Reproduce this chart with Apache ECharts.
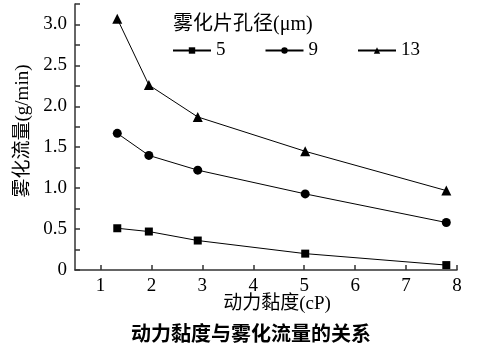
<!DOCTYPE html>
<html><head><meta charset="utf-8">
<script src="https://cdn.jsdelivr.net/npm/echarts@6/dist/echarts.min.js"></script>
<style>html,body{margin:0;padding:0;background:#fff}#c{width:495px;height:359px}</style>
</head><body><div id="c"></div>
<script>
const viscosity = [1.33, 1.95, 2.91, 5.02, 7.79];
const flow5 = [0.51, 0.47, 0.36, 0.20, 0.06];
const flow9 = [1.67, 1.40, 1.22, 0.93, 0.58];
const flow13 = [3.07, 2.26, 1.87, 1.45, 0.97];
const seriesNames = ['5', '9', '13'];
const xTicks = [1, 2, 3, 4, 5, 6, 7, 8];

const serif = '"Liberation Serif", "Noto Sans CJK SC", serif';
const numFont = 'Liberation Serif';
const chart = echarts.init(document.getElementById('c'), null, {renderer: 'canvas'});
function pairs(ys){ return viscosity.map((x,i)=>[x, ys[i]]); }
const common = {type:'line', lineStyle:{color:'#000', width:1}, itemStyle:{color:'#000'}, animation:false};
chart.setOption({
  animation:false,
  backgroundColor:'#fff',
  textStyle:{fontFamily:numFont},
  grid:{left:75, right:38, top:4, bottom:89, containLabel:false},
  graphic:[
    {type:'text', x:173, y:25, style:{text:'雾化片孔径(μm)', font:'20px ' + serif, fill:'#000', textVerticalAlign:'middle'}},
    {type:'text', x:23, y:131, rotation:Math.PI/2, style:{text:'雾化流量(g/min)', font:'19px ' + serif, fill:'#000', textAlign:'center', textVerticalAlign:'middle'}},
    {type:'text', x:277, y:304, style:{text:'动力黏度(cP)', font:'19px ' + serif, fill:'#000', textAlign:'center', textVerticalAlign:'middle'}},
    {type:'text', x:251, y:333, style:{text:'动力黏度与雾化流量的关系', font:'bold 20px "Noto Sans CJK SC", sans-serif', fill:'#000', textAlign:'center', textVerticalAlign:'middle'}}
  ],
  legend:{
    left:167, top:36, itemWidth:38, itemHeight:8, itemGap:39,
    data:seriesNames,
    textStyle:{fontFamily:numFont, fontSize:19, color:'#000'}
  },
  xAxis:{
    type:'value', min:0.5, max:8,
    axisLine:{show:true, lineStyle:{color:'#333', width:1.5}},
    axisTick:{show:true, inside:true, length:5, customValues:xTicks, lineStyle:{color:'#333', width:1.5}},
    axisLabel:{customValues:xTicks, margin:7, fontFamily:numFont, fontSize:19, color:'#000'},
    splitLine:{show:false}
  },
  yAxis:{
    type:'value', min:0, max:3.25, interval:0.25,
    axisLine:{show:true, lineStyle:{color:'#333', width:1.5}},
    axisTick:{show:true, inside:true, length:5, lineStyle:{color:'#333', width:1.5}},
    axisLabel:{margin:8, fontFamily:numFont, fontSize:19, color:'#000',
      formatter:function(v){ if (Math.abs(v*2-Math.round(v*2))>1e-6) return ''; return v===0?'0':v.toFixed(1); }},
    splitLine:{show:false}
  },
  series:[
    Object.assign({name:seriesNames[0], symbol:'rect', symbolSize:8, data:pairs(flow5)}, common),
    Object.assign({name:seriesNames[1], symbol:'circle', symbolSize:9, data:pairs(flow9)}, common),
    Object.assign({name:seriesNames[2], symbol:'triangle', symbolSize:10, data:pairs(flow13)}, common)
  ]
});
</script></body></html>
